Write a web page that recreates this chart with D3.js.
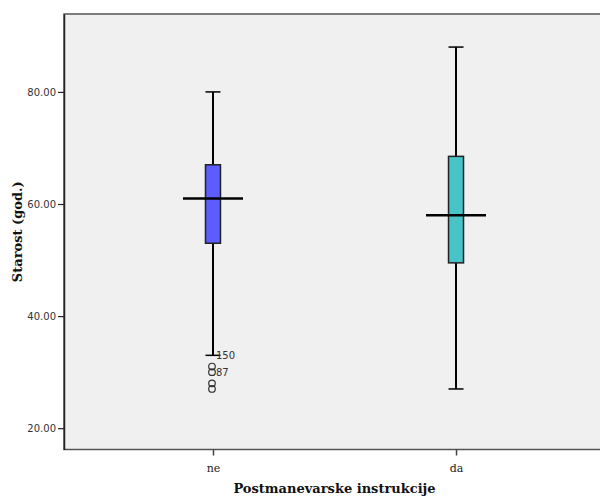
<!DOCTYPE html>
<html>
<head>
<meta charset="utf-8">
<script src="https://cdn.jsdelivr.net/npm/d3@7"></script>
<style>
  body { margin: 0; background: #fff; }
  svg { display: block; }
</style>
</head>
<body>
<div id="chart"></div>
<script>
// data
const categories = ["ne", "da"];
const whiskerLow = [33, 27];
const q1 = [53, 49.5];
const median = [61, 58];
const q3 = [67, 68.5];
const whiskerHigh = [80, 88];
const boxColors = ["#5c5cff", "#48c3c7"];
const outliers = [
  { cat: "ne", value: 31 },
  { cat: "ne", value: 30 },
  { cat: "ne", value: 28 },
  { cat: "ne", value: 27 }
];
const outlierLabels = [
  { cat: "ne", value: 33, text: "150" },
  { cat: "ne", value: 30, text: "87" }
];
const yTicks = [20, 40, 60, 80];

const width = 600, height = 499;
const margin = { top: 14, left: 64, bottom: 50 };
const plotRight = 605;

const svg = d3.select("#chart").append("svg")
  .attr("width", width)
  .attr("height", height);

const x = d3.scalePoint()
  .domain(categories)
  .range([margin.left, plotRight])
  .padding(0.613);

const y = d3.scaleLinear()
  .domain([16.2, 93.9])
  .range([height - margin.bottom + 0.5, margin.top]);

// plot background
svg.append("rect")
  .attr("x", margin.left)
  .attr("y", margin.top)
  .attr("width", plotRight - margin.left)
  .attr("height", y.range()[0] - margin.top)
  .attr("fill", "#f0f0f0")
  .attr("stroke", "#555")
  .attr("stroke-width", 1.5);

// y axis
const yAxis = svg.append("g")
  .attr("transform", `translate(${margin.left},0)`)
  .call(d3.axisLeft(y).tickValues(yTicks).tickFormat(d3.format(".2f"))
    .tickSize(6).tickSizeOuter(0).tickPadding(2));
yAxis.select(".domain").attr("stroke", "#222").attr("stroke-width", 1.5);
yAxis.selectAll(".tick line").attr("stroke", "#222").attr("stroke-width", 1.2);
yAxis.selectAll("text")
  .attr("font-family", "DejaVu Sans, sans-serif")
  .attr("font-size", 10)
  .attr("fill", "#333");

// x axis
const xAxis = svg.append("g")
  .attr("transform", `translate(0,${y.range()[0]})`)
  .call(d3.axisBottom(x).tickSize(6).tickSizeOuter(0).tickPadding(9));
xAxis.select(".domain").remove();
xAxis.selectAll(".tick line").attr("stroke", "#444").attr("stroke-width", 1.5);
xAxis.selectAll("text")
  .attr("font-family", "DejaVu Serif, serif")
  .attr("font-size", 11)
  .attr("fill", "#222");

// axis titles
svg.append("text")
  .attr("x", (margin.left + plotRight) / 2)
  .attr("y", 493)
  .attr("text-anchor", "middle")
  .attr("font-family", "DejaVu Serif, serif")
  .attr("font-weight", "bold")
  .attr("font-size", 13)
  .attr("fill", "#111")
  .text("Postmanevarske instrukcije");

svg.append("text")
  .attr("transform", `translate(22,${(margin.top + y.range()[0]) / 2}) rotate(-90)`)
  .attr("text-anchor", "middle")
  .attr("font-family", "DejaVu Serif, serif")
  .attr("font-weight", "bold")
  .attr("font-size", 13)
  .attr("fill", "#111")
  .text("Starost (god.)");

// boxes
const boxW = 15, medW = 60;
const boxes = svg.append("g");
categories.forEach((c, i) => {
  const cx = x(c);
  const g = boxes.append("g");
  // whiskers
  g.append("line")
    .attr("x1", cx).attr("x2", cx)
    .attr("y1", y(whiskerHigh[i])).attr("y2", y(q3[i]))
    .attr("stroke", "#000").attr("stroke-width", 2);
  g.append("line")
    .attr("x1", cx).attr("x2", cx)
    .attr("y1", y(q1[i])).attr("y2", y(whiskerLow[i]))
    .attr("stroke", "#000").attr("stroke-width", 2);
  [whiskerHigh[i], whiskerLow[i]].forEach(v => {
    g.append("line")
      .attr("x1", cx - boxW / 2).attr("x2", cx + boxW / 2)
      .attr("y1", y(v)).attr("y2", y(v))
      .attr("stroke", "#000").attr("stroke-width", 1.5);
  });
  g.append("rect")
    .attr("x", cx - boxW / 2)
    .attr("y", y(q3[i]))
    .attr("width", boxW)
    .attr("height", y(q1[i]) - y(q3[i]))
    .attr("fill", boxColors[i])
    .attr("stroke", "#222")
    .attr("stroke-width", 1.5);
  g.append("line")
    .attr("x1", cx - medW / 2).attr("x2", cx + medW / 2)
    .attr("y1", y(median[i])).attr("y2", y(median[i]))
    .attr("stroke", "#000").attr("stroke-width", 2.5);
});

// outliers
svg.append("g").selectAll("circle")
  .data(outliers)
  .join("circle")
  .attr("cx", d => x(d.cat) - 1)
  .attr("cy", d => y(d.value))
  .attr("r", 3.3)
  .attr("fill", "none")
  .attr("stroke", "#333")
  .attr("stroke-width", 1.2);

svg.append("g").selectAll("text")
  .data(outlierLabels)
  .join("text")
  .attr("x", d => x(d.cat) + 3)
  .attr("y", d => y(d.value) + 4)
  .attr("font-family", "DejaVu Sans, sans-serif")
  .attr("font-size", 10)
  .attr("fill", "#333")
  .text(d => d.text);
</script>
</body>
</html>
